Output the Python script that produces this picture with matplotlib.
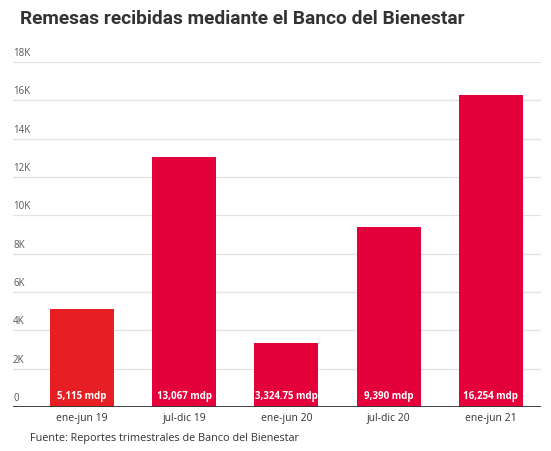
import matplotlib.pyplot as plt
from matplotlib import transforms

periods = ["ene-jun 19", "jul-dic 19", "ene-jun 20", "jul-dic 20", "ene-jun 21"]
remesas = [5115, 13067, 3324.75, 9390, 16254]
value_labels = ["5,115 mdp", "13,067 mdp", "3,324.75 mdp", "9,390 mdp", "16,254 mdp"]
y_ticks = [0, 2000, 4000, 6000, 8000, 10000, 12000, 14000, 16000, 18000]
y_tick_labels = ["0", "2K", "4K", "6K", "8K", "10K", "12K", "14K", "16K", "18K"]
bar_colors = ["#E81E25", "#E4003B", "#E4003B", "#E4003B", "#E4003B"]

W, H = 551, 451
fig = plt.figure(figsize=(W / 100, H / 100), dpi=100)
ax = fig.add_axes([13 / W, (H - 407) / H, (541 - 13) / W, (407 - 62) / H])

x = list(range(len(periods)))
ax.bar(x, remesas, width=0.626, color=bar_colors, zorder=2)
ax.set_xlim(-0.675, 4.49)
ax.set_ylim(0, 18000)

for s in ax.spines.values():
    s.set_visible(False)
ax.set_xticks([])
ax.set_yticks([])

# gridlines with labels sitting above them
trans = transforms.blended_transform_factory(ax.transAxes, ax.transData)
for v, lab in zip(y_ticks, y_tick_labels):
    if v > 0:
        ax.axhline(v, color="#e3e3e3", lw=0.9, zorder=1)
    ax.text(0.0, v + 150, lab, transform=trans, ha="left", va="bottom",
            fontsize=7, color="#555555", family="Open Sans")
ax.axhline(0, color="#333333", lw=1.3, zorder=3)

for xi, lab in zip(x, value_labels):
    ax.text(xi, 250, lab, ha="center", va="bottom", fontsize=7,
            color="white", fontweight="bold", family="Open Sans", zorder=4)
    ax.text(xi, -300, periods[xi], ha="center", va="top", fontsize=7.5,
            color="#333333", family="Open Sans")

fig.text(20 / W, 1 - 19 / H, "Remesas recibidas mediante el Banco del Bienestar",
         ha="left", va="center", fontsize=13.8, fontweight="bold",
         color="#333333", family="Roboto")
fig.text(30 / W, 1 - 438 / H, "Fuente: Reportes trimestrales de Banco del Bienestar",
         ha="left", va="center", fontsize=7.8, color="#333333", family="Open Sans")

fig.savefig("out.png", dpi=100)
